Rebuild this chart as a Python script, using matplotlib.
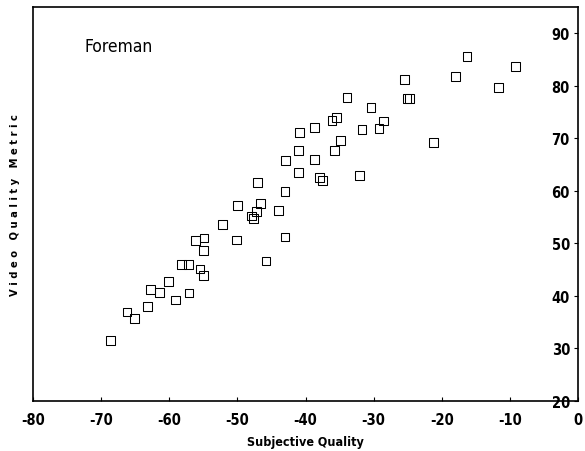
import matplotlib
matplotlib.use("Agg")
import matplotlib.pyplot as plt

subjective = [-68.6, -66.2, -65.1, -63.2, -62.7, -61.4, -60.1, -59.1, -57.1, -58.2,
              -57.2, -55.5, -55.0, -56.1, -54.9, -55.0, -50.1, -52.2, -50.0, -47.9,
              -47.6, -47.2, -46.6, -47.0, -45.8, -44.0, -43.0, -43.0, -42.9, -41.0,
              -41.0, -40.9, -38.7, -38.7, -37.9, -37.5, -36.1, -35.5, -35.7, -34.9,
              -33.9, -32.1, -31.7, -30.4, -29.2, -28.5, -25.5, -25.1, -24.7, -21.2,
              -18.0, -16.3, -11.7, -9.2]
vqm = [31.5, 36.9, 35.6, 37.9, 41.2, 40.6, 42.7, 39.2, 40.5, 46.0,
       46.0, 45.1, 43.9, 50.5, 51.0, 48.6, 50.6, 53.5, 57.2, 55.2,
       54.7, 56.1, 57.5, 61.6, 46.6, 56.2, 51.2, 59.9, 65.8, 67.6,
       63.4, 71.1, 72.0, 66.0, 62.5, 62.0, 73.4, 74.0, 67.7, 69.6,
       77.7, 62.9, 71.7, 75.8, 71.9, 73.3, 81.2, 77.5, 77.5, 69.2,
       81.7, 85.5, 79.6, 83.6]
x_ticks = [-80, -70, -60, -50, -40, -30, -20, -10, 0]
y_ticks = [20, 30, 40, 50, 60, 70, 80, 90]

plt.rcParams['font.family'] = ['DejaVu Sans']
plt.rcParams['font.stretch'] = 'condensed'

fig = plt.figure(figsize=(5.85, 4.52), dpi=100)
ax = fig.add_axes([33/585, 1-401.7/452, (578-33)/585, (401.7-8)/452])

ax.scatter(subjective, vqm, marker='s', s=40, facecolors='none',
           edgecolors='black', linewidths=0.75)

ax.set_xlim(-80, 0)
ax.set_ylim(20, 95)
ax.set_xticks(x_ticks)
ax.set_yticks(y_ticks)
ax.set_xticklabels([str(v) for v in x_ticks], fontweight='bold', fontsize=10.5,
                   fontstretch='condensed')
ax.yaxis.tick_right()
ax.set_yticklabels([str(v) for v in y_ticks], fontweight='bold', fontsize=10.5,
                   fontstretch='condensed')
ax.tick_params(axis='x', direction='in', length=3, pad=8)
ax.tick_params(axis='y', direction='in', length=3, pad=-19)

ax.set_xlabel('Subjective Quality', fontweight='bold', fontsize=9,
              fontstretch='condensed', labelpad=6)
ax.yaxis.set_label_position('left')
ax.set_ylabel('V i d e o   Q u a l i t y   M e t r i c', fontweight='bold',
              fontsize=8, fontstretch='condensed', labelpad=9)

for sp in ax.spines.values():
    sp.set_linewidth(1.2)
    sp.set_color('black')

ax.text(0.095, 0.90, 'Foreman', transform=ax.transAxes, fontsize=12.5,
        fontstretch='condensed', ha='left', va='center')

fig.savefig('out.png', dpi=100)
